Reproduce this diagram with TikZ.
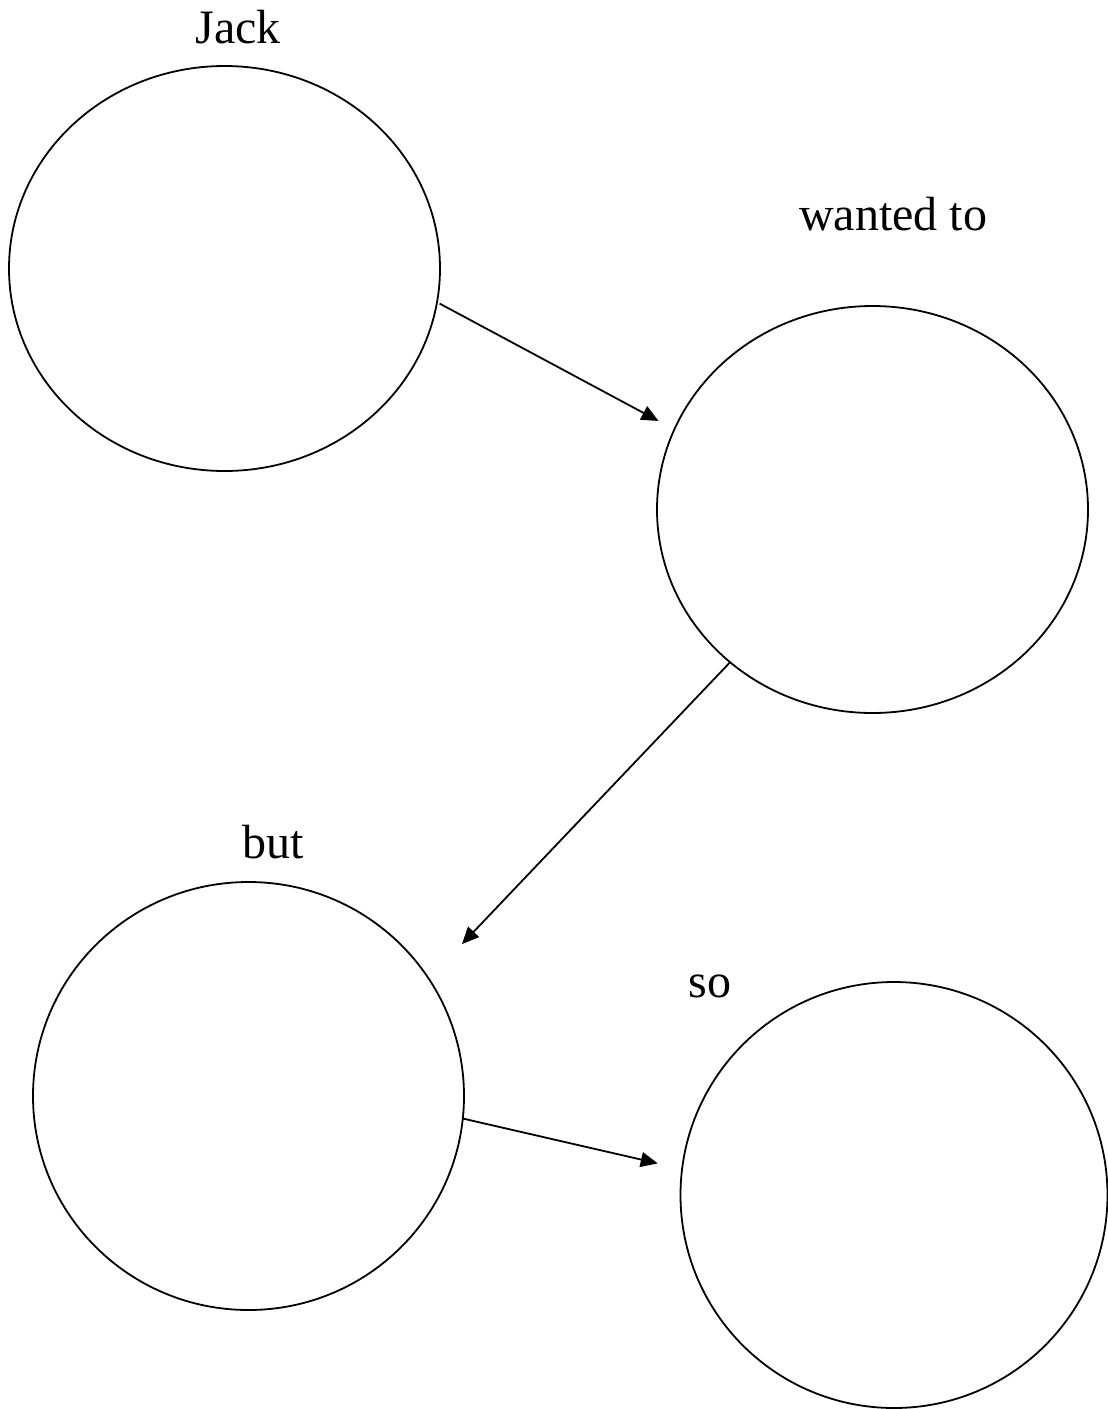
\documentclass[tikz,border=0pt]{standalone}
\usepackage{fontspec}
\setmainfont{Liberation Serif}
\usetikzlibrary{shapes.geometric,arrows.meta}
\begin{document}
\begin{tikzpicture}[x=1pt,y=-1pt,
  blob/.style={draw, ellipse, line width=1.8pt, inner sep=0pt, outer sep=0pt},
  lbl/.style={anchor=base, inner sep=0pt, font=\fontsize{48}{58}\selectfont},
  conn/.style={line width=1.8pt, -{Triangle[length=17pt,width=15pt]}}]
\useasboundingbox (0,0) rectangle (1108,1409);
\node[blob, minimum width=431pt, minimum height=405pt] (jack) at (224.5,268.5) {};
\node[blob, minimum width=431pt, minimum height=407pt] (want) at (872.5,509.5) {};
\node[blob, minimum width=431pt, minimum height=428pt] (but) at (248.5,1096) {};
\node[blob, minimum width=427pt, minimum height=426pt] (so) at (894,1195) {};
\node[lbl] (tjack) at (238,43) {Jack};
\node[lbl] (twant) at (893,230) {wanted to};
\node[lbl] (tbut) at (273,858) {but};
\node[lbl] (tso) at (710,997) {so};
\draw[conn, shorten <=3pt, shorten >=18pt] (jack.-9.5) -- (want.158.1);
\draw[conn, shorten >=48pt] (want.227.1) -- (but.33.4);
\draw[conn, shorten >=25pt] (but.-6.6) -- (so.173.5);
\end{tikzpicture}
\end{document}
